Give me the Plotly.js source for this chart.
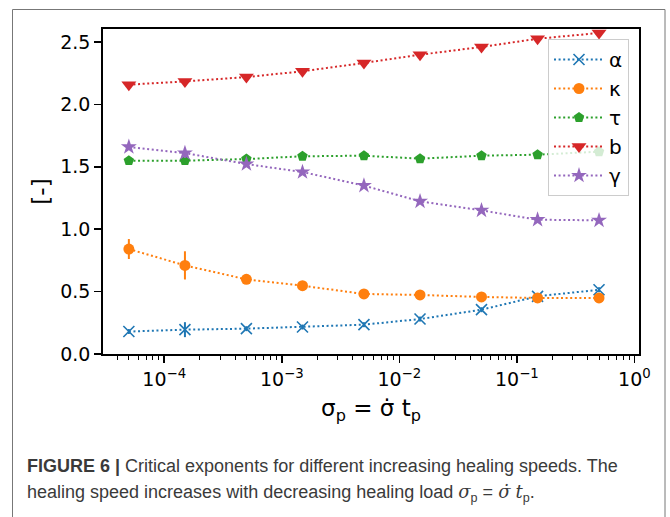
<!DOCTYPE html>
<html>
<head>
<meta charset="utf-8">
<script src="https://cdn.plot.ly/plotly-3.0.1.min.js"></script>
<style>html,body{margin:0;padding:0;background:#fff;}#chart{width:670px;height:517px;}</style>
</head>
<body>
<div id="chart"></div>
<script>
// ---- data ----
const sigmaP = [5e-5, 1.5e-4, 5e-4, 1.5e-3, 5e-3, 1.5e-2, 5e-2, 1.5e-1, 5e-1];
const alphaVals = [0.180, 0.195, 0.203, 0.216, 0.235, 0.280, 0.355, 0.462, 0.515];
const alphaErr  = [0.02, 0.06, 0.02, 0.02, 0.02, 0.02, 0.02, 0.02, 0.02];
const kappaVals = [0.841, 0.710, 0.598, 0.547, 0.481, 0.473, 0.457, 0.449, 0.449];
const kappaErr  = [0.08, 0.113, 0.015, 0.03, 0.015, 0.015, 0.015, 0.015, 0.015];
const tauVals   = [1.549, 1.549, 1.562, 1.584, 1.589, 1.565, 1.589, 1.597, 1.621];
const tauErr    = [0.015, 0.015, 0.015, 0.015, 0.015, 0.015, 0.015, 0.015, 0.015];
const bVals     = [2.158, 2.184, 2.219, 2.265, 2.332, 2.398, 2.460, 2.526, 2.572];
const bErr      = [0.015, 0.015, 0.015, 0.015, 0.015, 0.015, 0.015, 0.015, 0.015];
const gammaVals = [1.659, 1.610, 1.522, 1.458, 1.349, 1.223, 1.151, 1.076, 1.071];
const gammaErr  = [0.02, 0.04, 0.02, 0.02, 0.02, 0.02, 0.02, 0.02, 0.02];
const seriesNames = ['α', 'κ', 'τ', 'b', 'γ'];
const xTickVals = [1e-4, 1e-3, 1e-2, 1e-1, 1];
const xTickText = ['10<sup>−4</sup>', '10<sup>−3</sup>', '10<sup>−2</sup>', '10<sup>−1</sup>', '10<sup>0</sup>'];
const yTickVals = [0, 0.5, 1.0, 1.5, 2.0, 2.5];

const colors = ['#1f77b4', '#ff7f0e', '#2ca02c', '#d62728', '#9467bd'];
const symbols = ['x-thin', 'circle', 'pentagon', 'triangle-down', 'star'];
const sizes = [11, 11, 11, 13, 12];
const ys = [alphaVals, kappaVals, tauVals, bVals, gammaVals];
const errs = [alphaErr, kappaErr, tauErr, bErr, gammaErr];

const traces = ys.map((y, i) => ({
  x: sigmaP, y: y, name: seriesNames[i], type: 'scatter', mode: 'lines+markers',
  line: {color: colors[i], width: 2, dash: '2px,2.6px'},
  marker: {symbol: symbols[i], size: sizes[i], color: colors[i],
           line: {color: colors[i], width: i === 0 ? 1.6 : 0}},
  error_y: {type: 'data', array: errs[i], visible: true, color: colors[i], thickness: 2, width: 0}
}));

const L = 103, R = 639, T = 29, B = 354;
const W = 670, H = 517;
const px = v => (v - L) / (R - L);
const py = v => (B - v) / (B - T);
const mathI = s => '<i style="font-family:\'DejaVu Serif\'">' + s + '</i>';

const layout = {
  width: W, height: H,
  margin: {l: L, r: W - R, t: T, b: H - B, pad: 0},
  paper_bgcolor: '#fff', plot_bgcolor: '#fff',
  font: {family: 'DejaVu Sans', color: '#000', size: 19},
  showlegend: true,
  xaxis: {
    type: 'log', range: [-4.521, 0.039],
    tickvals: xTickVals, ticktext: xTickText,
    ticks: 'outside', ticklen: 7, tickwidth: 1.5, tickcolor: '#000',
    minor: {ticks: 'outside', ticklen: 4, tickwidth: 1, tickcolor: '#000', dtick: 'D1', showgrid: false},
    showline: true, linecolor: '#000', linewidth: 1.8, mirror: true,
    showgrid: false, zeroline: false,
    tickfont: {family: 'DejaVu Sans', size: 19, color: '#000'},
    title: {text: 'σ<sub>p</sub> = σ̇ t<sub>p</sub>', font: {family: 'DejaVu Sans', size: 23, color: '#000'}, standoff: 11}
  },
  yaxis: {
    range: [0, 2.604],
    tickvals: yTickVals, tickformat: '.1f',
    ticks: 'outside', ticklen: 7, tickwidth: 1.5, tickcolor: '#000',
    showline: true, linecolor: '#000', linewidth: 1.8, mirror: true,
    showgrid: false, zeroline: false,
    tickfont: {family: 'DejaVu Sans', size: 19, color: '#000'},
    title: {text: '[-]', font: {family: 'DejaVu Sans', size: 23, color: '#000'}, standoff: 4}
  },
  legend: {
    x: px(629), y: py(39), xanchor: 'right', yanchor: 'top',
    bgcolor: 'rgba(255,255,255,0.8)', bordercolor: '#cccccc', borderwidth: 1,
    font: {family: 'DejaVu Sans', size: 20, color: '#000'},
    itemwidth: 50
  },
  shapes: [{
    type: 'rect', xref: 'paper', yref: 'paper', layer: 'below',
    x0: px(12.5), x1: px(665), y0: py(530), y1: py(9.5),
    line: {color: '#777', width: 1}, fillcolor: 'rgba(0,0,0,0)'
  }],
  annotations: [
    {xref: 'paper', yref: 'paper', x: px(25), y: py(466), xanchor: 'left', yanchor: 'middle', showarrow: false,
     align: 'left',
     text: '<b>FIGURE 6 |</b> Critical exponents for different increasing healing speeds. The',
     font: {family: 'Liberation Sans', size: 18, color: '#3a3a3a'}},
    {xref: 'paper', yref: 'paper', x: px(25), y: py(493), xanchor: 'left', yanchor: 'middle', showarrow: false,
     align: 'left',
     text: 'healing speed increases with decreasing healing load ' + mathI('σ') + '<sub>p</sub> = ' + mathI('σ̇') + ' ' + mathI('t') + '<sub>p</sub>.',
     font: {family: 'Liberation Sans', size: 18, color: '#3a3a3a'}}
  ]
};

Plotly.newPlot('chart', traces, layout, {displayModeBar: false, staticPlot: true});
</script>
</body>
</html>
